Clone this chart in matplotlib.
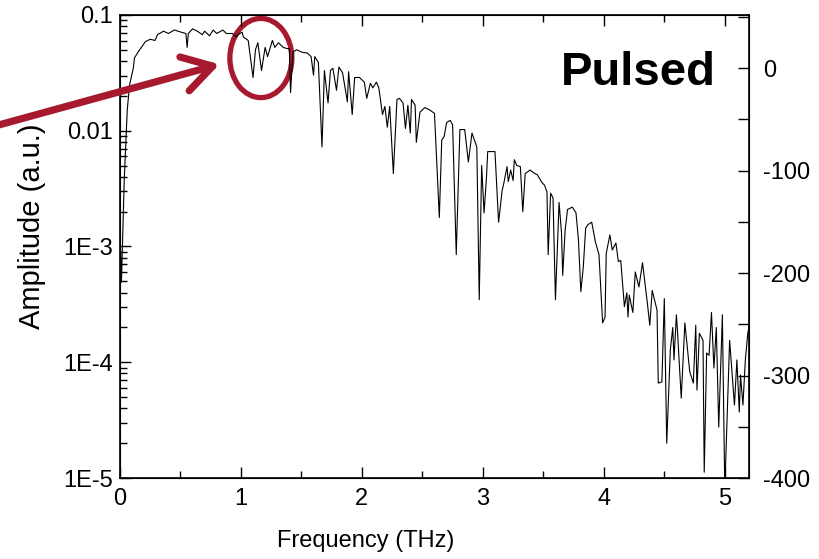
import numpy as np
import matplotlib.pyplot as plt
from matplotlib.patches import Ellipse, FancyArrowPatch
from matplotlib.ticker import MultipleLocator, LogLocator, NullFormatter

plt.rcParams['font.family'] = ['Liberation Sans', 'DejaVu Sans']
plt.rcParams['axes.unicode_minus'] = False

# spectrum: frequency (THz) and log10 of amplitude (a.u.)
freq = [0.005, 0.012, 0.035, 0.06, 0.08, 0.11, 0.12, 0.15, 0.21, 0.25, 0.29, 0.31, 0.36, 0.40,
        0.45, 0.51, 0.545, 0.555, 0.565, 0.60, 0.64, 0.68, 0.70, 0.74, 0.77, 0.80, 0.85, 0.88,
        0.93, 0.96, 0.99, 1.01, 1.02, 1.06, 1.10, 1.12, 1.14, 1.17, 1.20, 1.22, 1.26, 1.28,
        1.31, 1.35, 1.38, 1.40, 1.41, 1.43, 1.46, 1.50, 1.55, 1.58, 1.60, 1.61, 1.64, 1.67,
        1.69, 1.72, 1.74, 1.76, 1.79, 1.81, 1.84, 1.88, 1.89, 1.92, 1.94, 1.98, 2.02, 2.04,
        2.07, 2.09, 2.12, 2.14, 2.17, 2.19, 2.21, 2.23, 2.26, 2.29, 2.31, 2.34, 2.36, 2.38,
        2.40, 2.41, 2.44, 2.45, 2.48, 2.52, 2.56, 2.60, 2.64, 2.66, 2.68, 2.70, 2.73, 2.75,
        2.78, 2.81, 2.85, 2.88, 2.91, 2.95, 2.97, 2.99, 3.01, 3.03, 3.04, 3.07, 3.10, 3.13,
        3.16, 3.17, 3.20, 3.21, 3.23, 3.25, 3.26, 3.28, 3.31, 3.33, 3.35, 3.39, 3.43, 3.45,
        3.49, 3.51, 3.53, 3.54, 3.56, 3.58, 3.60, 3.63, 3.65, 3.66, 3.68, 3.70, 3.74, 3.77,
        3.79, 3.81, 3.83, 3.85, 3.87, 3.90, 3.93, 3.96, 3.99, 4.01, 4.02, 4.05, 4.07, 4.10,
        4.12, 4.14, 4.17, 4.19, 4.20, 4.21, 4.24, 4.26, 4.29, 4.32, 4.36, 4.38, 4.40, 4.44,
        4.45, 4.48, 4.50, 4.52, 4.55, 4.57, 4.58, 4.60, 4.61, 4.64, 4.67, 4.69, 4.71, 4.74,
        4.76, 4.77, 4.79, 4.82, 4.83, 4.85, 4.87, 4.89, 4.91, 4.93, 4.95, 4.98, 5.00, 5.04,
        5.06, 5.08, 5.10, 5.12, 5.13, 5.15, 5.17, 5.19, 5.21]
log_amp = [-3.03, -3.31, -2.43, -1.82, -1.60, -1.46, -1.37, -1.32, -1.23, -1.21, -1.22, -1.17,
           -1.14, -1.16, -1.13, -1.15, -1.16, -1.28, -1.16, -1.12, -1.14, -1.17, -1.14, -1.18,
           -1.13, -1.16, -1.13, -1.16, -1.16, -1.19, -1.16, -1.15, -1.19, -1.22, -1.54, -1.30,
           -1.24, -1.48, -1.28, -1.36, -1.22, -1.28, -1.24, -1.28, -1.29, -1.29, -1.67, -1.32,
           -1.30, -1.32, -1.33, -1.36, -1.52, -1.36, -1.41, -2.14, -1.48, -1.76, -1.48, -1.46,
           -1.65, -1.45, -1.50, -1.75, -1.49, -1.86, -1.54, -1.54, -1.58, -1.72, -1.59, -1.63,
           -1.58, -1.63, -1.86, -1.79, -1.97, -1.79, -2.37, -1.73, -1.72, -1.76, -1.98, -1.78,
           -2.02, -1.73, -1.78, -2.10, -1.84, -1.80, -1.82, -1.85, -2.75, -2.08, -2.05, -1.93,
           -1.91, -1.95, -3.07, -1.99, -1.99, -2.27, -2.02, -2.14, -3.46, -2.30, -2.71, -2.40,
           -2.18, -2.18, -2.18, -2.79, -2.51, -2.47, -2.31, -2.44, -2.34, -2.43, -2.25, -2.30,
           -2.31, -2.70, -2.37, -2.34, -2.37, -2.38, -2.45, -2.47, -2.53, -3.07, -2.54, -2.58,
           -3.46, -2.62, -2.88, -3.25, -2.86, -2.68, -2.66, -2.71, -2.94, -3.39, -3.18, -2.84,
           -2.81, -2.79, -2.96, -3.07, -3.66, -3.61, -3.06, -2.90, -3.03, -2.97, -3.13, -3.12,
           -3.52, -3.40, -3.61, -3.42, -3.57, -3.22, -3.35, -3.14, -3.49, -3.68, -3.38, -3.55,
           -4.18, -4.17, -3.45, -4.70, -3.89, -3.70, -3.98, -3.59, -3.75, -4.31, -3.66, -3.87,
           -4.08, -4.18, -3.68, -4.24, -3.75, -3.81, -4.95, -3.92, -3.94, -3.57, -4.05, -3.70,
           -4.56, -3.59, -5.10, -3.81, -4.09, -4.37, -3.98, -4.43, -4.11, -4.37, -3.98, -3.75,
           -3.64]

left_ticks = [1e-5, 1e-4, 1e-3, 1e-2, 1e-1]
left_labels = ['1E-5', '1E-4', '1E-3', '0.01', '0.1']
x_ticks = [0, 1, 2, 3, 4, 5]
right_ticks = [-400, -300, -200, -100, 0]

red = '#A6192E'

fig = plt.figure(figsize=(8.19, 5.59), dpi=100)
ax = fig.add_axes([0.1465, 0.1449, 0.768, 0.8283])

amp = 10 ** np.array(log_amp)
ax.plot(freq, amp, color='black', lw=0.8)

ax.set_yscale('log')
ax.set_xlim(0, 5.2)
ax.set_ylim(1e-5, 0.1)
ax.set_yticks(left_ticks)
ax.set_yticklabels(left_labels)
ax.yaxis.set_minor_locator(LogLocator(base=10, subs=np.arange(2, 10)))
ax.yaxis.set_minor_formatter(NullFormatter())
ax.set_xticks(x_ticks)
ax.xaxis.set_minor_locator(MultipleLocator(0.5))

ax.tick_params(which='both', direction='in', top=True, right=False, labelsize=17, width=1)
ax.tick_params(which='major', length=8)
ax.tick_params(which='minor', length=5)
ax.tick_params(axis='x', pad=7)
ax.tick_params(axis='y', pad=5)
for s in ax.spines.values():
    s.set_linewidth(1.2)

ax.set_xlabel('Frequency (THz)', fontsize=17)
ax.xaxis.set_label_coords(0.39, -0.113)
ax.set_ylabel('Amplitude (a.u.)', fontsize=21)
ax.yaxis.set_label_coords(-0.118, 0.544)

ax2 = ax.twinx()
ax2.set_ylim(-400, 52)
ax2.set_yticks(right_ticks)
ax2.yaxis.set_minor_locator(MultipleLocator(50))
ax2.tick_params(which='both', direction='in', labelsize=17, width=1, pad=10)
ax2.tick_params(which='major', length=8)
ax2.tick_params(which='minor', length=8)

ax.text(0.948, 0.875, 'Pulsed', transform=ax.transAxes, fontsize=34, fontweight='bold',
        ha='right', va='center')

ell = Ellipse((0.224, 0.907), 0.0986, 0.171, transform=ax.transAxes, fill=False,
              edgecolor=red, lw=3.8, clip_on=False)
ax.add_patch(ell)

arrow = FancyArrowPatch((-0.01, 0.773), (0.268, 0.885), transform=fig.transFigure,
                        arrowstyle='->,head_length=1.5,head_width=0.9', color=red,
                        lw=5.2, mutation_scale=14, shrinkA=0, shrinkB=0)
fig.patches.append(arrow)

fig.savefig('out.png', dpi=100)
